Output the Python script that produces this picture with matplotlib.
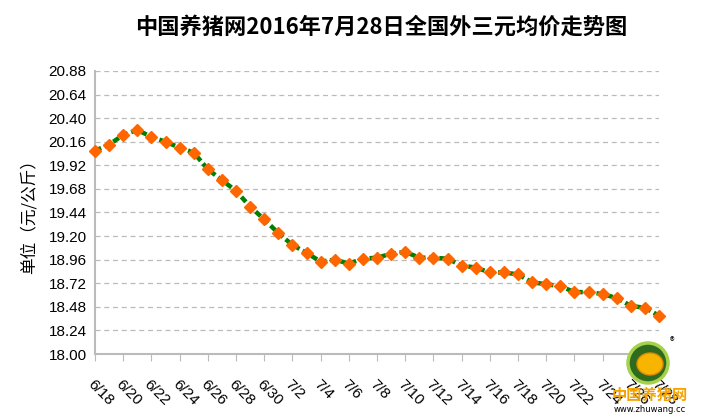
import matplotlib.pyplot as plt
import matplotlib.patches as mpatches
import numpy as np

# daily average price, 6/18 - 7/28
dates = ['6/18', '6/19', '6/20', '6/21', '6/22', '6/23', '6/24', '6/25', '6/26', '6/27',
         '6/28', '6/29', '6/30', '7/1', '7/2', '7/3', '7/4', '7/5', '7/6', '7/7',
         '7/8', '7/9', '7/10', '7/11', '7/12', '7/13', '7/14', '7/15', '7/16', '7/17',
         '7/18', '7/19', '7/20', '7/21', '7/22', '7/23', '7/24', '7/25', '7/26', '7/27',
         '7/28']
prices = [20.07, 20.13, 20.23, 20.28, 20.21, 20.16, 20.10, 20.05, 19.88, 19.77,
          19.66, 19.50, 19.37, 19.23, 19.11, 19.03, 18.94, 18.96, 18.92, 18.97,
          18.98, 19.02, 19.04, 18.98, 18.98, 18.97, 18.90, 18.88, 18.83, 18.83,
          18.81, 18.73, 18.71, 18.69, 18.63, 18.63, 18.61, 18.57, 18.49, 18.47,
          18.39]
yticks = [18.00, 18.24, 18.48, 18.72, 18.96, 19.20, 19.44, 19.68, 19.92, 20.16,
          20.40, 20.64, 20.88]

plt.rcParams['font.family'] = ['Noto Sans CJK SC', 'DejaVu Sans']

fig = plt.figure(figsize=(7.03, 4.2), dpi=100)
ax = fig.add_axes([95 / 703, 1 - 354 / 420, (659 - 95) / 703, (354 - 71) / 420])

x = np.arange(len(dates))
ax.plot(x, prices, color='#008000', linewidth=3.2, linestyle=(0, (1.5, 0.8)),
        marker='D', markersize=6.5, markerfacecolor='#FF6600',
        markeredgecolor='#FF6600', zorder=3, clip_on=False)

ax.set_xlim(0, len(dates) - 1)
ax.set_ylim(18.0, 20.88)
ax.set_yticks(yticks)
ax.set_yticklabels(['%.2f' % v for v in yticks], fontsize=11, family='Liberation Sans')
ax.yaxis.grid(True, color='#BBBBBB', linestyle=(0, (4, 3)), linewidth=0.9)
ax.tick_params(axis='y', length=0, pad=6)

ax.set_xticks(x[::2])
ax.set_xticklabels(dates[::2], rotation=-45, ha='left', va='top',
                   rotation_mode='anchor', fontsize=11, family='Liberation Sans')
ax.tick_params(axis='x', direction='out', length=5, color='#BBBBBB', pad=12)

for s in ['top', 'right']:
    ax.spines[s].set_visible(False)
for s in ['left', 'bottom']:
    ax.spines[s].set_color('#BBBBBB')
    ax.spines[s].set_linewidth(1.5)

ax.set_ylabel('单位（元/公斤）', fontsize=12, labelpad=8)

fig.text(381 / 703, 1 - 27 / 420, '中国养猪网2016年7月28日全国外三元均价走势图',
         ha='center', va='center', fontsize=16, fontweight='bold')

# logo
logo = fig.add_axes([610 / 703, 1 - 418 / 420, 80 / 703, 85 / 420])
logo.set_xlim(0, 80)
logo.set_ylim(0, 85)
logo.axis('off')
logo.add_patch(mpatches.Circle((38, 55), 20, facecolor='#2E6B1F',
                               edgecolor='#A5D24A', linewidth=2.5))
logo.add_patch(mpatches.Ellipse((40, 54), 26, 22, facecolor='#F7B500',
                                edgecolor='#E08A00', linewidth=1))
logo.text(62, 76, '®', fontsize=7, ha='center', va='center')
logo.text(40, 23, '中国养猪网', fontsize=11, fontweight='bold', color='#F4A300',
          ha='center', va='center')
logo.text(40, 8, 'www.zhuwang.cc', fontsize=6, ha='center', va='center',
          family='DejaVu Sans')

fig.savefig('out.png', dpi=100)
